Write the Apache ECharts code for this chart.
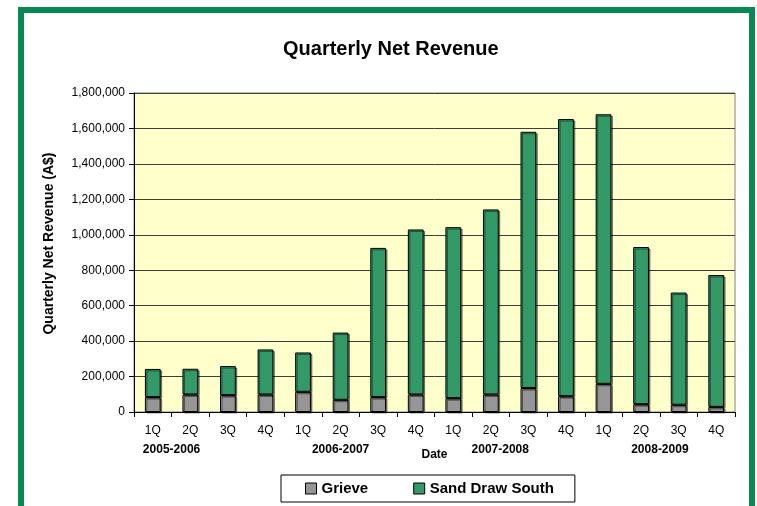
<!DOCTYPE html>
<html>
<head>
<meta charset="utf-8">
<script src="https://cdn.jsdelivr.net/npm/echarts@6/dist/echarts.min.js"></script>
<style>
html,body{margin:0;padding:0;background:#fff;}
#chart{width:757px;height:506px;}
</style>
</head>
<body>
<div id="chart"></div>
<script>
const quarters = ['1Q','2Q','3Q','4Q','1Q','2Q','3Q','4Q','1Q','2Q','3Q','4Q','1Q','2Q','3Q','4Q'];
const fiscalYears = ['2005-2006','2006-2007','2007-2008','2008-2009'];
const grieve = [84000, 99000, 95000, 99000, 114000, 69000, 84000, 99000, 78000, 99000, 135000, 89000, 159000, 44000, 41000, 29000];
const sandDrawSouth = [159000, 145000, 164000, 254000, 222000, 379000, 842000, 931000, 965000, 1044000, 1446000, 1564000, 1521000, 887000, 633000, 744000];

// anchor (in category units) where each fiscal-year label is centred
const yearAnchor = {1: 0, 5.5: 1, 9.75: 2, 14: 3};

const chart = echarts.init(document.getElementById('chart'), null, {renderer: 'canvas'});
const font = 'Arial, "Liberation Sans", sans-serif';
const barShadow = {shadowColor: 'rgba(0,0,0,0.45)', shadowOffsetX: 1.5, shadowOffsetY: 1.5, shadowBlur: 0};

chart.setOption({
  animation: false,
  backgroundColor: '#ffffff',
  title: {
    text: 'Quarterly Net Revenue',
    left: 278, top: 34,
    textStyle: {fontFamily: font, fontSize: 20, fontWeight: 'bold', color: '#000'}
  },
  graphic: [{
    type: 'rect', silent: true, z: 100,
    shape: {x: 21, y: 10, width: 731, height: 520},
    style: {fill: 'none', stroke: '#078a52', lineWidth: 6}
  }],
  legend: {
    left: 281, top: 475,
    width: 300,
    padding: [6, 21, 6, 24],
    itemGap: 45,
    itemWidth: 11, itemHeight: 11,
    borderColor: '#000', borderWidth: 1,
    backgroundColor: '#fff',
    icon: 'rect',
    textStyle: {fontFamily: font, fontSize: 15, fontWeight: 'bold', color: '#000'},
    data: [
      {name: 'Grieve', itemStyle: {color: '#969696', borderColor: '#000', borderWidth: 1}},
      {name: 'Sand Draw South', itemStyle: {color: '#339966', borderColor: '#000', borderWidth: 1}}
    ]
  },
  grid: {
    left: 134, right: 22, top: 93, bottom: 94,
    show: true, backgroundColor: '#FFFFCC', borderColor: '#808080', borderWidth: 1,
    containLabel: false
  },
  xAxis: [{
    type: 'category',
    data: quarters,
    name: 'Date',
    nameLocation: 'middle',
    nameGap: 37,
    nameTextStyle: {fontFamily: font, fontSize: 12, fontWeight: 'bold', color: '#000'},
    axisLine: {show: true, lineStyle: {color: '#000', width: 1}},
    axisTick: {show: true, alignWithLabel: false, length: 5, lineStyle: {color: '#000'}},
    axisLabel: {fontFamily: font, fontSize: 12, color: '#000', margin: 13, interval: 0},
    splitLine: {show: false}
  }, {
    type: 'value',
    gridIndex: 0,
    position: 'bottom',
    min: 0, max: 16, interval: 0.25,
    axisLine: {show: false},
    axisTick: {show: false},
    splitLine: {show: false},
    axisLabel: {
      show: true, margin: 32,
      fontFamily: font, fontSize: 12, fontWeight: 'bold', color: '#000',
      showMinLabel: true, showMaxLabel: true,
      formatter: function (v) {
        const k = Math.round(v * 100) / 100;
        return (k in yearAnchor) ? fiscalYears[yearAnchor[k]] : '';
      }
    }
  }],
  yAxis: {
    type: 'value',
    min: 0, max: 1800000, interval: 200000,
    name: 'Quarterly Net Revenue (A$)',
    nameLocation: 'middle',
    nameRotate: 90,
    nameGap: 78,
    nameTextStyle: {fontFamily: font, fontSize: 14, fontWeight: 'bold', color: '#000', padding: [0, 0, 0, 18]},
    axisLine: {show: true, lineStyle: {color: '#000', width: 1}},
    axisTick: {show: true, length: 5, lineStyle: {color: '#000'}},
    axisLabel: {
      fontFamily: font, fontSize: 12, color: '#000', margin: 9,
      formatter: function (v) { return v.toLocaleString('en-US'); }
    },
    splitLine: {show: true, lineStyle: {color: '#3d3d3d', width: 1}}
  },
  series: [{
    name: 'Grieve',
    type: 'bar',
    stack: 'total',
    barWidth: '42%',
    data: grieve,
    itemStyle: Object.assign({color: '#969696', borderColor: '#000', borderWidth: 1}, barShadow)
  }, {
    name: 'Sand Draw South',
    type: 'bar',
    stack: 'total',
    barWidth: '42%',
    data: sandDrawSouth,
    itemStyle: Object.assign({color: '#339966', borderColor: '#000', borderWidth: 1}, barShadow)
  }]
});
</script>
</body>
</html>
